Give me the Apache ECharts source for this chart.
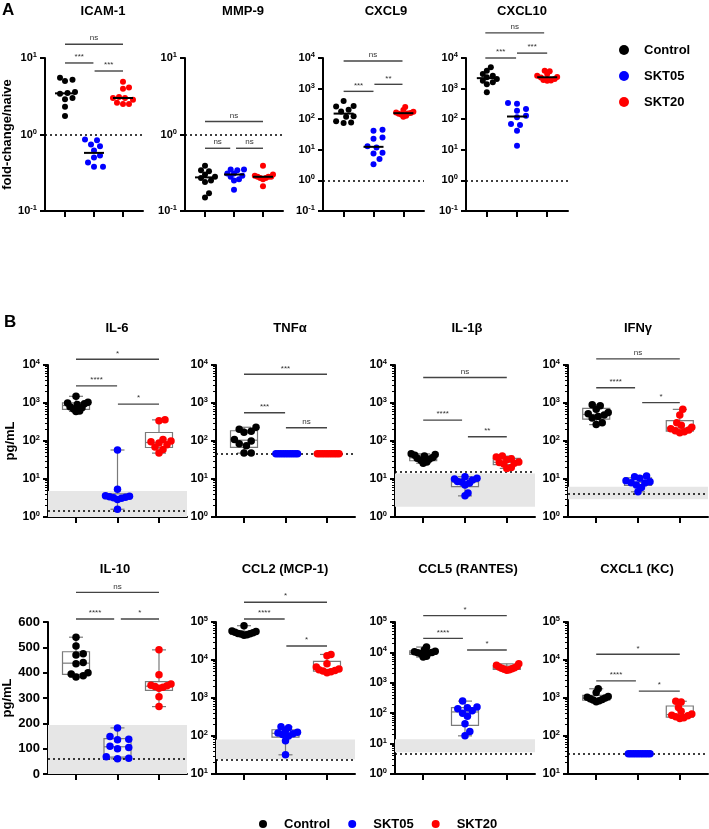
<!DOCTYPE html>
<html><head><meta charset="utf-8">
<script src="https://cdn.jsdelivr.net/npm/echarts@6/dist/echarts.min.js"></script>
<style>html,body{margin:0;padding:0;background:#fff}#c{width:709px;height:829px}</style>
</head><body><div id="c"></div>
<script>
// ---------------- DATA ----------------
const groups = ['Control', 'SKT05', 'SKT20'];

// A: fold-change / naive
const icam1_control = [5.5, 5.2, 5.0, 3.6, 3.5, 3.4, 3.0, 2.9, 2.3, 1.75];
const icam1_skt05   = [0.86, 0.84, 0.74, 0.70, 0.62, 0.53, 0.50, 0.43, 0.38, 0.38];
const icam1_skt20   = [4.9, 4.1, 3.95, 3.1, 3.0, 3.0, 2.85, 2.6, 2.5, 2.5];
const icam1_sig     = ['ns', '***', '***'];

const mmp9_control = [0.39, 0.34, 0.33, 0.30, 0.28, 0.27, 0.25, 0.24, 0.17, 0.15];
const mmp9_skt05   = [0.35, 0.35, 0.34, 0.31, 0.31, 0.29, 0.28, 0.26, 0.25, 0.19];
const mmp9_skt20   = [0.39, 0.30, 0.29, 0.28, 0.28, 0.28, 0.27, 0.27, 0.26, 0.21];
const mmp9_sig     = ['ns', 'ns', 'ns'];

const cxcl9_control = [390, 270, 260, 205, 180, 125, 120, 85, 78, 75];
const cxcl9_skt05   = [45, 42, 25, 23, 13, 12, 8, 7.5, 5, 3.4];
const cxcl9_skt20   = [250, 200, 175, 165, 160, 155, 150, 140, 130, 120];
const cxcl9_sig     = ['ns', '***', '**'];

const cxcl10_control = [5000, 3850, 3000, 2650, 2340, 2050, 1800, 1600, 1400, 760];
const cxcl10_skt05   = [340, 320, 215, 190, 130, 115, 70, 65, 42, 13.5];
const cxcl10_skt20   = [3850, 3700, 3000, 2650, 2400, 2300, 2050, 1900, 1850, 1800];
const cxcl10_sig     = ['ns', '***', '***'];

// B: pg/mL
const il6_control = [1500, 1050, 1000, 950, 920, 800, 750, 700, 620, 600];
const il6_skt05   = [58, 5.4, 3.6, 3.5, 3.4, 3.3, 3.2, 3.1, 2.9, 1.6];
const il6_skt20   = [360, 340, 110, 100, 95, 88, 80, 70, 60, 48];
const il6_sig     = ['*', '****', '*'];
const il6_lod = 1.47, il6_band = [1, 4.8];

const tnfa_control = [230, 205, 180, 170, 110, 100, 85, 75, 48, 48];
const tnfa_skt05   = [46, 46, 46, 46, 46, 46, 46, 46, 46, 46];
const tnfa_skt20   = [46, 46, 46, 46, 46, 46, 46, 46, 46, 46];
const tnfa_sig     = ['***', '***', 'ns'];
const tnfa_lod = 46;

const il1b_control = [46, 44, 42, 40, 37, 35, 33, 31, 28, 26];
const il1b_skt05   = [11.5, 10.5, 10, 9.4, 8.6, 8.2, 7.8, 7, 4.3, 3.6];
const il1b_skt20   = [40, 38, 34, 32, 28, 27, 26, 25, 20, 19];
const il1b_sig     = ['ns', '****', '**'];
const il1b_lod = 15.6, il1b_band = [1.86, 14];

const ifng_control = [900, 850, 680, 560, 520, 480, 440, 400, 300, 270];
const ifng_skt05   = [12, 11.5, 10.5, 9, 8.5, 8, 7.8, 7, 6, 4.6];
const ifng_skt20   = [680, 480, 300, 260, 230, 210, 195, 185, 175, 165];
const ifng_sig     = ['ns', '****', '*'];
const ifng_lod = 4.0, ifng_band = [2.95, 6.3];

const il10_control = [540, 505, 475, 470, 440, 435, 400, 395, 388, 383];
const il10_skt05   = [182, 148, 137, 135, 110, 105, 100, 68, 62, 60];
const il10_skt20   = [490, 392, 355, 350, 348, 345, 342, 338, 305, 266];
const il10_sig     = ['ns', '****', '*'];
const il10_lod = 62, il10_band = [0, 193];

const ccl2_control = [80000, 58000, 56000, 54000, 52000, 50000, 49000, 48000, 46000, 45000];
const ccl2_skt05   = [175, 165, 140, 125, 120, 115, 110, 100, 75, 32];
const ccl2_skt20   = [14000, 13000, 8000, 6500, 5800, 5500, 5300, 5100, 4900, 4600];
const ccl2_sig     = ['*', '****', '*'];
const ccl2_lod = 23.6, ccl2_band = [24.5, 81];

const ccl5_control = [15000, 12000, 11000, 10500, 10000, 9800, 9500, 9000, 7500, 7000];
const ccl5_skt05   = [250, 160, 150, 140, 120, 100, 80, 45, 25, 18];
const ccl5_skt20   = [4200, 3800, 3500, 3300, 3100, 3000, 2900, 2800, 2700, 2600];
const ccl5_sig     = ['*', '****', '*'];
const ccl5_lod = 4.6, ccl5_band = [5.2, 13.8];

const cxcl1_control = [1750, 1400, 1100, 1050, 1000, 950, 920, 880, 850, 800];
const cxcl1_skt05   = [34, 34, 34, 34, 34, 34, 34, 34, 34, 34];
const cxcl1_skt20   = [820, 780, 560, 450, 380, 350, 340, 320, 300, 290];
const cxcl1_sig     = ['*', '****', '*'];
const cxcl1_lod = 34;

// ---------------- LAYOUT ----------------
const FONT = '"Liberation Sans", Arial, sans-serif';
const COLORS = ['#000000', '#0000ff', '#ff0000'];
const rows = {
  A:  {top: 58,  height: 153, xMin: 0.31,  xMax: 3.69,  dot: 6,   half: 10, titleY: 10,  box: false, lab: 11},
  B1: {top: 365, height: 152, xMin: 0.325, xMax: 3.675, dot: 7.5, half: 12, titleY: 327, box: true,  lab: 12},
  B2: {top: 622, height: 152, xMin: 0.325, xMax: 3.675, dot: 7.5, half: 12, titleY: 568, box: true,  lab: 12}
};
const panels = [
  {title:'ICAM-1', cx:103, row:'A', left:45, width:98, vals:[icam1_control, icam1_skt05, icam1_skt20], log:true, yMin:-1, yMax:1, sig:icam1_sig, sigAt:[[1,3,1.18],[1,1.98,0.935],[2.02,3,0.83]], ref:1, yName:'fold-change/naive'},
  {title:'MMP-9', cx:243, row:'A', left:185, width:98, vals:[mmp9_control, mmp9_skt05, mmp9_skt20], log:true, yMin:-1, yMax:1, sig:mmp9_sig, sigAt:[[1,3,0.17],[1,1.87,-0.18],[2.07,3,-0.18]], ref:1},
  {title:'CXCL9', cx:386, row:'A', left:323, width:101, vals:[cxcl9_control, cxcl9_skt05, cxcl9_skt20], log:true, yMin:-1, yMax:4, sig:cxcl9_sig, sigAt:[[1,2.97,3.9],[1,2,2.91],[2.03,2.97,3.14]], ref:1},
  {title:'CXCL10', cx:522, row:'A', left:466, width:102, vals:[cxcl10_control, cxcl10_skt05, cxcl10_skt20], log:true, yMin:-1, yMax:4, sig:cxcl10_sig, sigAt:[[0.95,2.9,4.82],[0.95,1.97,4.0],[2.0,3.0,4.16]], ref:1},
  {title:'IL-6', cx:117, row:'B1', left:48, width:139, vals:[il6_control, il6_skt05, il6_skt20], log:true, yMin:0, yMax:4, sig:il6_sig, sigAt:[[1,3,4.15],[1,1.99,3.45],[2.01,3,2.97]], ref:il6_lod, band:il6_band, yName:'pg/mL'},
  {title:'TNFα', cx:290, row:'B1', left:216, width:139, vals:[tnfa_control, tnfa_skt05, tnfa_skt20], log:true, yMin:0, yMax:4, sig:tnfa_sig, sigAt:[[1,3,3.755],[1,1.99,2.745],[2.01,3,2.35]], ref:tnfa_lod},
  {title:'IL-1β', cx:467, row:'B1', left:395, width:140, vals:[il1b_control, il1b_skt05, il1b_skt20], log:true, yMin:0, yMax:4, sig:il1b_sig, sigAt:[[1,3,3.67],[1,1.93,2.55],[2.07,3,2.11]], ref:il1b_lod, band:il1b_band},
  {title:'IFNγ', cx:638, row:'B1', left:568, width:140, vals:[ifng_control, ifng_skt05, ifng_skt20], log:true, yMin:0, yMax:4, sig:ifng_sig, sigAt:[[1,3,4.16],[1,1.93,3.4],[2.1,3,3.01]], ref:ifng_lod, band:ifng_band},
  {title:'IL-10', cx:115, row:'B2', left:48, width:139, vals:[il10_control, il10_skt05, il10_skt20], log:false, yMin:0, yMax:600, interval:100, sig:il10_sig, sigAt:[[1,3,717],[1,1.92,612],[2.08,3,612]], ref:il10_lod, band:il10_band, yName:'pg/mL'},
  {title:'CCL2 (MCP-1)', cx:285, row:'B2', left:216, width:139, vals:[ccl2_control, ccl2_skt05, ccl2_skt20], log:true, yMin:1, yMax:5, sig:ccl2_sig, sigAt:[[1,3,5.52],[1,1.98,5.08],[2.02,3,4.37]], ref:ccl2_lod, band:ccl2_band},
  {title:'CCL5 (RANTES)', cx:468, row:'B2', left:395, width:140, vals:[ccl5_control, ccl5_skt05, ccl5_skt20], log:true, yMin:0, yMax:5, sig:ccl5_sig, sigAt:[[1,3,5.21],[1,1.95,4.46],[2.05,3,4.08]], ref:ccl5_lod, band:ccl5_band},
  {title:'CXCL1 (KC)', cx:637, row:'B2', left:568, width:140, vals:[cxcl1_control, cxcl1_skt05, cxcl1_skt20], log:true, yMin:1, yMax:5, sig:cxcl1_sig, sigAt:[[1,3,4.15],[1,1.95,3.45],[2.02,3,3.18]], ref:cxcl1_lod}
];

// ---------------- HELPERS ----------------
function pct(arr, p) {
  const s = arr.slice().sort((a, b) => a - b), n = s.length;
  const h = (n + 1) * p;
  if (h <= 1) return s[0];
  if (h >= n) return s[n - 1];
  const lo = Math.floor(h);
  return s[lo - 1] + (h - lo) * (s[lo] - s[lo - 1]);
}
function swarm(pys, d, maxHalf) {
  const order = pys.map((_, i) => i).sort((a, b) => pys[a] - pys[b]);
  const off = new Array(pys.length).fill(0);
  const placed = [];
  for (const i of order) {
    let best = 0;
    for (let k = 0; k < 60; k++) {
      const c = k === 0 ? 0 : (k % 2 ? 1 : -1) * Math.ceil(k / 2) * d * 0.5;
      const ok = placed.every(j => Math.hypot(off[j] - c, pys[j] - pys[i]) >= d * 1.05);
      if (ok) { best = c; break; }
    }
    off[i] = best; placed.push(i);
  }
  const m = Math.max(...off.map(Math.abs));
  const sc = m > maxHalf ? maxHalf / m : 1;
  return off.map(o => o * sc);
}

// ---------------- BUILD OPTION ----------------
const option = {
  animation: false,
  backgroundColor: '#fff',
  textStyle: {fontFamily: FONT},
  title: [], grid: [], xAxis: [], yAxis: [], series: [],
  legend: [
    {orient: 'vertical', left: 614, top: 37, data: groups, icon: 'circle', itemWidth: 10, itemHeight: 10, itemGap: 10,
     selectedMode: false, textStyle: {fontSize: 13, fontWeight: 'bold', color: '#000', fontFamily: FONT, lineHeight: 16, padding: [0, 0, 0, 10]}},
    {orient: 'horizontal', left: 254, top: 811, data: groups, icon: 'circle', itemWidth: 8, itemHeight: 8, itemGap: 18,
     selectedMode: false, textStyle: {fontSize: 13, fontWeight: 'bold', color: '#000', fontFamily: FONT, lineHeight: 16, padding: [0, 0, 0, 12]}}
  ]
};
option.title.push({text: 'A', left: 2, top: 2, padding: 0, textStyle: {fontSize: 17, fontWeight: 'bold', color: '#000', fontFamily: FONT}});
option.title.push({text: 'B', left: 4, top: 314, padding: 0, textStyle: {fontSize: 17, fontWeight: 'bold', color: '#000', fontFamily: FONT}});

const axisLineStyle = {color: '#000', width: 2};
panels.forEach((p, i) => {
  const R = rows[p.row];
  const tf = v => p.log ? Math.log10(v) : v;
  option.title.push({text: p.title, left: p.cx, top: R.titleY - 5, textAlign: 'center', padding: 0,
    textStyle: {fontSize: 13, fontWeight: 'bold', color: '#000', fontFamily: FONT}});
  option.grid.push({left: p.left, top: R.top, width: p.width, height: R.height});
  option.xAxis.push({type: 'value', gridIndex: i, min: R.xMin, max: R.xMax,
    axisLine: {onZero: false, lineStyle: axisLineStyle},
    axisTick: {show: true, customValues: [1, 2, 3], length: 6, lineStyle: {color: '#000', width: 2}},
    axisLabel: {show: false}, splitLine: {show: false}});
  const yMainIdx = option.yAxis.length;
  option.yAxis.push({type: 'value', gridIndex: i, position: 'left', min: p.yMin, max: p.yMax, interval: p.interval || 1,
    axisLine: {show: true, onZero: false, lineStyle: axisLineStyle},
    axisTick: {show: true, length: 5, lineStyle: {color: '#000', width: 2}},
    splitLine: {show: false},
    axisLabel: {margin: 8, color: '#000',
      formatter: v => p.log ? '{b|10}{s|' + Math.round(v) + '}' : '{n|' + v + '}',
      rich: {
        b: {fontSize: R.lab, fontWeight: 'bold', color: '#000', fontFamily: FONT, lineHeight: 14},
        s: {fontSize: 7.5, fontWeight: 'bold', color: '#000', fontFamily: FONT, verticalAlign: 'top', lineHeight: 9},
        n: {fontSize: 13, fontWeight: 'bold', color: '#000', fontFamily: FONT}
      }},
    name: p.yName || '', nameLocation: 'middle', nameGap: p.left - 17, nameRotate: 90,
    nameTextStyle: {fontSize: 13, fontWeight: 'bold', color: '#000', fontFamily: FONT}});
  if (p.log && p.row !== 'A') {
    const minors = [];
    for (let n = p.yMin; n < p.yMax; n++) for (let k = 2; k <= 9; k++) minors.push(n + Math.log10(k));
    option.yAxis.push({type: 'value', gridIndex: i, position: 'left', min: p.yMin, max: p.yMax,
      axisLine: {show: false, onZero: false}, axisLabel: {show: false}, splitLine: {show: false},
      axisTick: {show: true, customValues: minors, length: 3, lineStyle: {color: '#000', width: 1}}});
  }
  const pxPerUnit = R.height / (p.yMax - p.yMin);

  // box plots (B) or median lines (A)
  const stats = p.vals.map((arr, g) => [g + 1, tf(Math.min(...arr)), tf(pct(arr, 0.25)), tf(pct(arr, 0.5)), tf(pct(arr, 0.75)), tf(Math.max(...arr))]);
  if (R.box) {
    option.series.push({type: 'custom', xAxisIndex: i, yAxisIndex: yMainIdx, z: 2, silent: true,
      encode: {x: 0, y: [1, 2, 3, 4, 5]}, data: stats,
      renderItem: (params, api) => {
        const x = api.value(0);
        const c = v => api.coord([x, api.value(v)]);
        const lo = c(1), q1 = c(2), md = c(3), q3 = c(4), hi = c(5);
        const cx = lo[0], hw = 13.5, cw = 7;
        const st = {stroke: '#7a7a7a', lineWidth: 1.2, fill: 'none'};
        return {type: 'group', children: [
          {type: 'line', shape: {x1: cx, y1: hi[1], x2: cx, y2: q3[1]}, style: st},
          {type: 'line', shape: {x1: cx, y1: q1[1], x2: cx, y2: lo[1]}, style: st},
          {type: 'line', shape: {x1: cx - cw, y1: hi[1], x2: cx + cw, y2: hi[1]}, style: st},
          {type: 'line', shape: {x1: cx - cw, y1: lo[1], x2: cx + cw, y2: lo[1]}, style: st},
          {type: 'rect', shape: {x: cx - hw, y: q3[1], width: 2 * hw, height: q1[1] - q3[1]}, style: {stroke: '#7a7a7a', lineWidth: 1.2, fill: 'rgba(255,255,255,0.5)'}},
          {type: 'line', shape: {x1: cx - hw, y1: md[1], x2: cx + hw, y2: md[1]}, style: st}
        ]};
      }});
  } else {
    option.series.push({type: 'custom', xAxisIndex: i, yAxisIndex: yMainIdx, z: 6, silent: true,
      encode: {x: 0, y: 3}, data: stats,
      renderItem: (params, api) => {
        const m = api.coord([api.value(0), api.value(3)]);
        return {type: 'line', shape: {x1: m[0] - 10, y1: m[1], x2: m[0] + 10, y2: m[1]}, style: {stroke: '#000', lineWidth: 2}};
      }});
  }

  // dots
  p.vals.forEach((arr, g) => {
    const pys = arr.map(v => (tf(v) - p.yMin) * pxPerUnit);
    const offs = swarm(pys, R.dot, R.half);
    const s = {name: groups[g], type: 'scatter', xAxisIndex: i, yAxisIndex: yMainIdx, z: 4, silent: true,
      symbolSize: R.dot, itemStyle: {color: COLORS[g], opacity: 1},
      data: arr.map((v, k) => ({value: [g + 1, tf(v)], symbolOffset: [offs[k], 0]}))};
    if (g === 0) {
      s.markLine = {silent: true, z: 3, symbol: ['none', 'none'], label: {show: false},
        lineStyle: {color: '#000', width: 1.5, type: [2, 3]}, data: [{yAxis: tf(p.ref)}]};
      if (p.band) {
        s.markArea = {silent: true, z: 1, itemStyle: {color: '#e6e6e6'},
          data: [[{yAxis: p.band[0] <= 0 && !p.log ? 0 : tf(p.band[0])}, {yAxis: tf(p.band[1])}]]};
      }
    }
    option.series.push(s);
  });

  // significance brackets
  option.series.push({type: 'custom', xAxisIndex: i, yAxisIndex: yMainIdx, z: 6, silent: true, clip: false,
    encode: {x: [0, 1], y: 2}, data: p.sigAt,
    renderItem: (params, api) => {
      const a = api.coord([api.value(0), api.value(2)]);
      const b = api.coord([api.value(1), api.value(2)]);
      return {type: 'group', children: [
        {type: 'line', shape: {x1: a[0], y1: a[1], x2: b[0], y2: b[1]}, style: {stroke: '#444', lineWidth: 1.4}},
        {type: 'text', style: {text: p.sig[params.dataIndex], x: (a[0] + b[0]) / 2, y: a[1] - 2, align: 'center', verticalAlign: 'bottom',
          fontSize: 8, fontFamily: FONT, fill: '#333'}}
      ]};
    }});
});

const chart = echarts.init(document.getElementById('c'), null, {renderer: 'canvas'});
chart.setOption(option);
</script></body></html>
